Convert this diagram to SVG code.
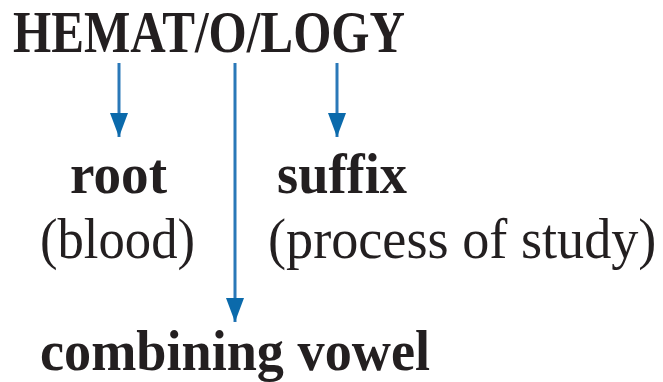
<svg xmlns="http://www.w3.org/2000/svg" width="663" height="382" viewBox="0 0 663 382">
  <style>
    .t { font-family: "Liberation Serif", "Times New Roman", serif; fill: #231f20; }
    .b { font-weight: bold; }
    .conn { stroke: #2a78b8; stroke-width: 3; fill: none; }
  </style>
  <defs>
    <marker id="ah" markerUnits="userSpaceOnUse" viewBox="0 0 24 18" markerWidth="24" markerHeight="18" refX="24" refY="9" orient="auto">
      <path d="M0,0 L24,9 L0,18 z" fill="#0b6aab"/>
    </marker>
  </defs>
  <rect width="663" height="382" fill="#ffffff"/>
  <g id="word">
    <text class="t b" x="13" y="52" font-size="60" textLength="392" lengthAdjust="spacingAndGlyphs">HEMAT/O/LOGY</text>
  </g>
  <g id="connectors">
    <line class="conn" x1="119" y1="63" x2="119" y2="137" marker-end="url(#ah)"/>
    <line class="conn" x1="235" y1="63" x2="235" y2="322" marker-end="url(#ah)"/>
    <line class="conn" x1="337" y1="63" x2="337" y2="137" marker-end="url(#ah)"/>
  </g>
  <g id="root">
    <text class="t b" x="70" y="193" font-size="58" textLength="97" lengthAdjust="spacingAndGlyphs">root</text>
    <text class="t" x="40" y="258" font-size="58" textLength="155" lengthAdjust="spacingAndGlyphs">(blood)</text>
  </g>
  <g id="suffix">
    <text class="t b" x="277" y="193" font-size="58" textLength="130" lengthAdjust="spacingAndGlyphs">suffix</text>
    <text class="t" transform="translate(268,258) scale(0.935,1)" x="0" y="0" font-size="58">(process of study)</text>
  </g>
  <g id="vowel">
    <text class="t b" x="40" y="370" font-size="57" textLength="390" lengthAdjust="spacingAndGlyphs">combining vowel</text>
  </g>
</svg>
